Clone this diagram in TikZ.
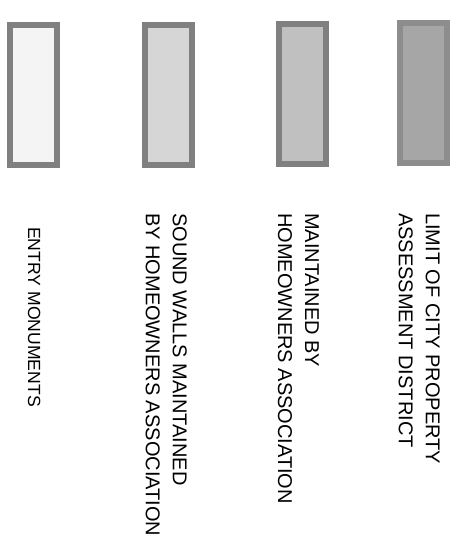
\documentclass[tikz,border=0pt]{standalone}
\usepackage{fontspec}
\setmainfont{Liberation Sans}
\usetikzlibrary{positioning}
\definecolor{edgecolor}{RGB}{128,128,128}
\definecolor{entrycolor}{RGB}{244,244,244}
\definecolor{wallcolor}{RGB}{214,214,214}
\definecolor{hoacolor}{RGB}{192,192,192}
\definecolor{citycolor}{RGB}{166,166,166}

\begin{document}
\begin{tikzpicture}[
    x=1pt, y=-1pt,
    swatch/.style={rectangle, draw=edgecolor, line width=6pt, minimum width=47pt, minimum height=140pt, inner sep=0pt},
    legtext/.style={rotate=-90, anchor=north west, inner sep=0pt, align=left, font=\fontsize{20}{27}\selectfont}
]
    \useasboundingbox (0,0) rectangle (463,542);

    % Swatches
    \node[swatch, fill=entrycolor] (entry) at (33.5,95) {};
    \node[swatch, fill=wallcolor] (walls) at (168.5,95) {};
    \node[swatch, fill=hoacolor] (hoa) at (302,94) {};
    \node[swatch, fill=citycolor, draw=citycolor!85!black] (city) at (423.5,93) {};

    % Legend texts
    \node[legtext, font=\fontsize{17.6}{24}\selectfont] (entrytext) at (40.5,227) {ENTRY MONUMENTS};
    \node[legtext] (wallstext) at (187,213) {SOUND WALLS MAINTAINED\\BY HOMEOWNERS ASSOCIATION};
    \node[legtext] (hoatext) at (319,213) {MAINTAINED BY\\HOMEOWNERS ASSOCIATION};
    \node[legtext] (citytext) at (440,213) {LIMIT OF CITY PROPERTY\\ASSESSMENT DISTRICT};

\end{tikzpicture}
\end{document}
